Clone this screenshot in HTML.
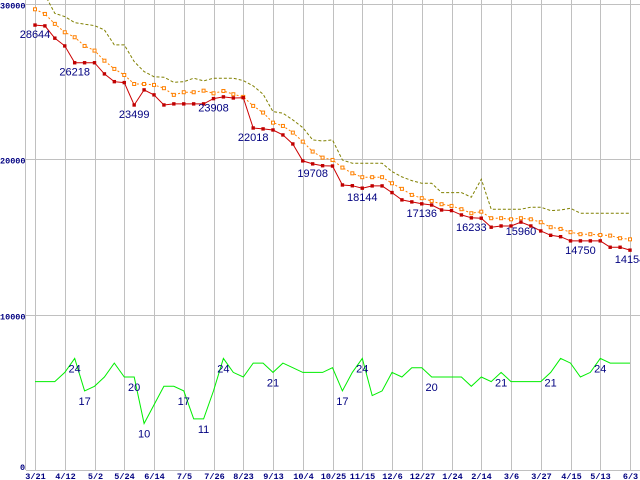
<!DOCTYPE html>
<html><head><meta charset="utf-8"><style>
html,body{margin:0;padding:0;background:#fff;}
svg{display:block;}
text{font-family:"Liberation Sans",sans-serif;}
.ax{font-family:"Liberation Mono",monospace;font-size:8.5px;fill:#000080;font-weight:bold;}
.lb{font-size:11px;fill:#000080;}
</style></head><body>
<svg id="chart" width="640" height="480" viewBox="0 0 640 480" shape-rendering="crispEdges">
<g id="grid"></g>
<g id="series" shape-rendering="auto"></g>
<g id="labels"></g>
</svg>
<script>
const xLabels=["3/21","4/12","5/2","5/24","6/14","7/5","7/26","8/23","9/13","10/4","10/25","11/15","12/6","12/27","1/24","2/14","3/6","3/27","4/15","5/13","6/3"];
const yTicks=[0,10000,20000,30000];
const redSeries=[28644,28590,27800,27300,26218,26218,26218,25500,25000,24940,23499,24470,24150,23500,23570,23570,23570,23570,23908,24020,23950,23970,22018,21960,21890,21570,20990,19900,19708,19590,19570,18350,18300,18144,18290,18290,17860,17390,17260,17136,17060,16740,16700,16420,16233,16210,15630,15710,15710,15960,15710,15390,15110,15020,14750,14750,14750,14750,14340,14340,14154];
const orangeSeries=[29660,29360,28720,28180,27860,27300,27000,26350,25820,25430,24850,24850,24790,24580,24150,24320,24320,24420,24250,24400,24190,24020,23440,23010,22360,22150,21720,21140,20500,20110,19960,19470,19100,18850,18850,18850,18460,18100,17710,17500,17320,17110,17000,16790,16530,16630,16210,16210,16140,16210,16140,15950,15630,15520,15310,15180,15180,15130,15090,14920,14850];
const oliveSeries=[30900,30600,29400,29190,28800,28700,28610,28330,27370,27370,26290,25650,25320,25290,24960,25000,25220,25050,25220,25220,25220,25070,24730,24190,23070,22970,22540,22040,21250,21180,21250,19960,19750,19750,19750,19750,19210,18870,18630,18460,18460,17860,17860,17860,17560,18720,16790,16790,16790,16790,16920,16920,16700,16740,16850,16530,16530,16530,16530,16530,16530];
const greenSeries=[19,19,19,21,24,17,18,20,23,20,20,10,14,18,18,17,11,11,17,24,21,20,23,23,21,23,22,21,21,21,22,17,21,24,16,17,21,20,22,22,20,20,20,20,18,20,19,21,19,19,19,19,21,24,23,20,21,24,23,23,23];
const redLabelIdx=[0,4,10,18,22,28,33,39,44,49,55,60];
const greenLabelIdx=[4,5,10,11,15,17,19,24,31,33,40,47,52,57];

const NS="http://www.w3.org/2000/svg";
const X0=35,X1=630,N=redSeries.length;
function xs(i){return X0+(X1-X0)*i/(N-1);}
function ys(v){return 470-v*(466/30000);}
function yg(v){return 470-v*4.65;}
function mk(tag,attrs,parent){const e=document.createElementNS(NS,tag);for(const k in attrs)e.setAttribute(k,attrs[k]);parent.appendChild(e);return e;}
const grid=document.getElementById('grid'),ser=document.getElementById('series'),lab=document.getElementById('labels');

yTicks.forEach(t=>{
  const y=Math.round(ys(t))+0.5;
  const l=mk('line',{x1:26,x2:640,y1:y,y2:y,stroke:'#c0c0c0'},grid);
  
  
  const tx=mk('text',{x:t===0?20:0,y:t===0?470:y+4,class:'ax'},lab);
  if(t===0)tx.setAttribute('font-size','7');
  tx.textContent=String(t);
  
  
});
const ax=mk('line',{x1:25.5,x2:25.5,y1:0,y2:470,stroke:'#c0c0c0'},grid);


xLabels.forEach((s,k)=>{
  const x=Math.round(xs(k*3))+0.5;
  const l=mk('line',{x1:x,x2:x,y1:0,y2:470,stroke:'#c0c0c0'},grid);
  
  
  const tx=mk('text',{x:x,y:479,class:'ax','text-anchor':'middle'},lab);
  tx.textContent=s;
  
  
});
function pts(arr,f){return arr.map((v,i)=>xs(i).toFixed(1)+','+f(v).toFixed(1)).join(' ');}
const ol=mk('polyline',{points:pts(oliveSeries,ys),fill:'none',stroke:'#808000','stroke-width':1,'stroke-dasharray':'3,2'},ser);


const orl=mk('polyline',{points:pts(orangeSeries,ys),fill:'none',stroke:'#ff8000','stroke-width':1,'stroke-dasharray':'2,2'},ser);


orangeSeries.forEach((v,i)=>{
  const r=mk('rect',{x:xs(i)-1.5,y:ys(v)-1.5,width:3,height:3,fill:'#fff',stroke:'#ff8000','stroke-width':1},ser);
  
  
});
const rl=mk('polyline',{points:pts(redSeries,ys),fill:'none',stroke:'#cc0000','stroke-width':1},ser);


redSeries.forEach((v,i)=>{
  const r=mk('rect',{x:xs(i)-1.7,y:ys(v)-1.7,width:3.4,height:3.4,fill:'#c00000'},ser);
  
  
});
const gl=mk('polyline',{points:pts(greenSeries,yg),fill:'none',stroke:'#00ee00','stroke-width':1},ser);


redLabelIdx.forEach(i=>{
  const tx=mk('text',{x:xs(i),y:ys(redSeries[i])+13,class:'lb','text-anchor':'middle'},lab);
  tx.textContent=String(redSeries[i]);
  
  
});
greenLabelIdx.forEach(i=>{
  const tx=mk('text',{x:xs(i),y:yg(greenSeries[i])+14,class:'lb','text-anchor':'middle'},lab);
  tx.textContent=String(greenSeries[i]);
  
  
});
</script>
</body></html>
